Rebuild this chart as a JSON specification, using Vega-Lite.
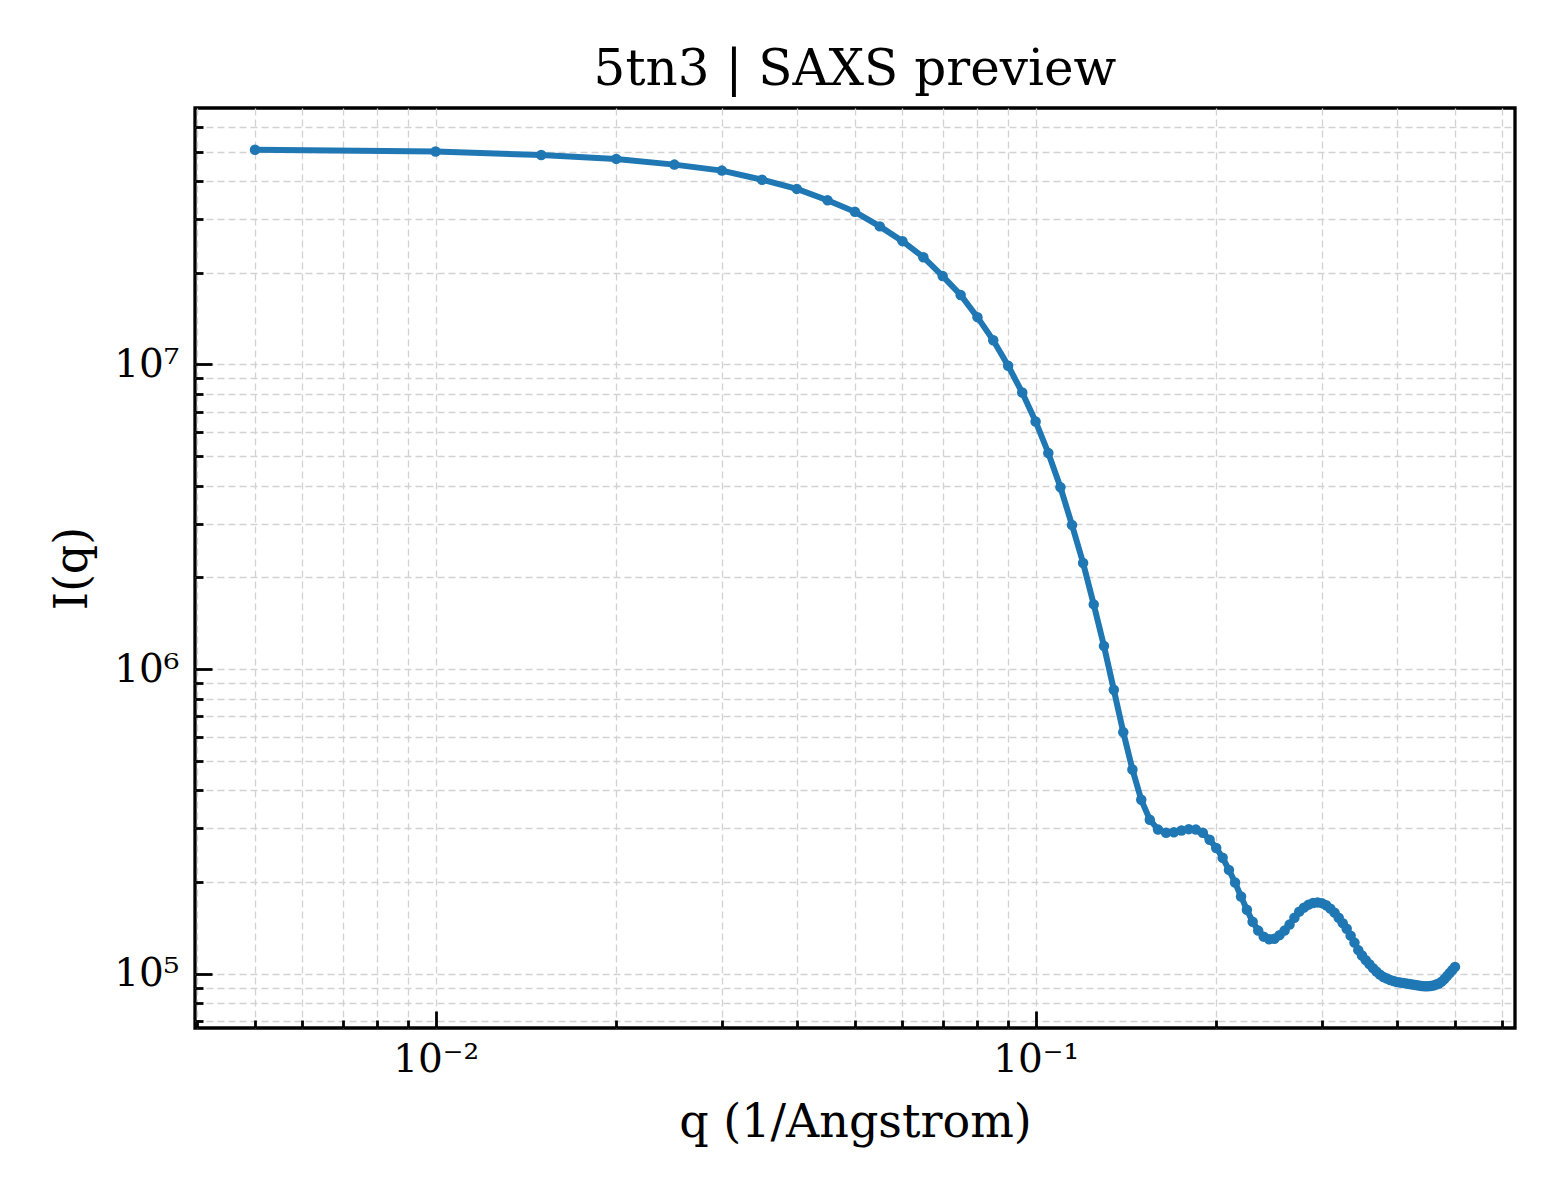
{
  "$schema": "https://vega.github.io/schema/vega-lite/v6.json",
  "autosize": "none",
  "padding": {"left": 195, "top": 108, "right": 45, "bottom": 172},
  "width": 1320,
  "height": 920,
  "background": "white",
  "config": {
    "view": {"stroke": "black", "strokeWidth": 3.3},
    "font": "DejaVu Serif",
    "axis": {
      "domain": false,
      "grid": true,
      "gridColor": "#d2d2d2",
      "gridDash": [7, 4],
      "gridWidth": 1.3,
      "tickColor": "black",
      "tickWidth": 2.8,
      "labelFont": "DejaVu Serif",
      "labelColor": "black",
      "labelFontSize": 39,
      "titleFont": "DejaVu Serif",
      "titleFontWeight": "normal",
      "titleColor": "black",
      "titleFontSize": 46,
      "labelOverlap": false,
      "labelFlush": false
    }
  },
  "title": {"text": "5tn3 | SAXS preview", "font": "DejaVu Serif", "fontSize": 50, "fontWeight": "normal", "color": "black", "offset": 13, "anchor": "middle"},
  "data": {"values": [
    {"q": 0.005, "I": 50700000}, {"q": 0.010, "I": 50000000}, {"q": 0.015, "I": 48700000}, {"q": 0.020, "I": 47300000},
    {"q": 0.025, "I": 45300000}, {"q": 0.030, "I": 43300000}, {"q": 0.035, "I": 40400000}, {"q": 0.040, "I": 37700000},
    {"q": 0.045, "I": 34600000}, {"q": 0.050, "I": 31700000}, {"q": 0.055, "I": 28400000}, {"q": 0.060, "I": 25400000},
    {"q": 0.065, "I": 22500000}, {"q": 0.070, "I": 19500000}, {"q": 0.075, "I": 16900000}, {"q": 0.080, "I": 14300000},
    {"q": 0.085, "I": 12000000}, {"q": 0.090, "I": 9900000}, {"q": 0.095, "I": 8090000}, {"q": 0.100, "I": 6500000},
    {"q": 0.105, "I": 5120000}, {"q": 0.110, "I": 3950000}, {"q": 0.115, "I": 2970000}, {"q": 0.120, "I": 2230000},
    {"q": 0.125, "I": 1630000}, {"q": 0.130, "I": 1190000}, {"q": 0.135, "I": 855000}, {"q": 0.140, "I": 620000},
    {"q": 0.145, "I": 468000}, {"q": 0.150, "I": 372000}, {"q": 0.155, "I": 320000}, {"q": 0.160, "I": 297000},
    {"q": 0.165, "I": 290000}, {"q": 0.170, "I": 291000}, {"q": 0.175, "I": 295000}, {"q": 0.180, "I": 298000},
    {"q": 0.185, "I": 297000}, {"q": 0.190, "I": 290000}, {"q": 0.195, "I": 275000}, {"q": 0.200, "I": 258500},
    {"q": 0.205, "I": 240000}, {"q": 0.210, "I": 219000}, {"q": 0.215, "I": 199000}, {"q": 0.220, "I": 179000},
    {"q": 0.225, "I": 162000}, {"q": 0.230, "I": 148000}, {"q": 0.235, "I": 138400}, {"q": 0.240, "I": 132200},
    {"q": 0.245, "I": 129700}, {"q": 0.250, "I": 130200}, {"q": 0.255, "I": 133700}, {"q": 0.260, "I": 138400},
    {"q": 0.265, "I": 144800}, {"q": 0.270, "I": 152600}, {"q": 0.275, "I": 159700}, {"q": 0.280, "I": 164600},
    {"q": 0.285, "I": 168400}, {"q": 0.290, "I": 170500}, {"q": 0.295, "I": 171300}, {"q": 0.300, "I": 170300},
    {"q": 0.305, "I": 167700}, {"q": 0.310, "I": 163400}, {"q": 0.315, "I": 158500}, {"q": 0.320, "I": 152600},
    {"q": 0.325, "I": 146400}, {"q": 0.330, "I": 140400}, {"q": 0.335, "I": 133200}, {"q": 0.340, "I": 126400},
    {"q": 0.345, "I": 119400}, {"q": 0.350, "I": 114600}, {"q": 0.355, "I": 110700}, {"q": 0.360, "I": 107400},
    {"q": 0.365, "I": 104200}, {"q": 0.370, "I": 101500}, {"q": 0.375, "I": 99200}, {"q": 0.380, "I": 97400},
    {"q": 0.385, "I": 96300}, {"q": 0.390, "I": 95200}, {"q": 0.395, "I": 94500}, {"q": 0.400, "I": 93800},
    {"q": 0.405, "I": 93400}, {"q": 0.410, "I": 93100}, {"q": 0.415, "I": 92700}, {"q": 0.420, "I": 92400},
    {"q": 0.425, "I": 92000}, {"q": 0.430, "I": 91700}, {"q": 0.435, "I": 91300}, {"q": 0.440, "I": 91000},
    {"q": 0.445, "I": 90900}, {"q": 0.450, "I": 90900}, {"q": 0.455, "I": 91000}, {"q": 0.460, "I": 91300},
    {"q": 0.465, "I": 92000}, {"q": 0.470, "I": 92700}, {"q": 0.475, "I": 94100}, {"q": 0.480, "I": 95900},
    {"q": 0.485, "I": 98100}, {"q": 0.490, "I": 100400}, {"q": 0.495, "I": 102700}, {"q": 0.500, "I": 105200}
  ]},
  "mark": {"type": "line", "color": "#1f77b4", "strokeWidth": 6, "point": {"filled": true, "size": 110, "color": "#1f77b4"}},
  "encoding": {
    "x": {
      "field": "q", "type": "quantitative",
      "scale": {"type": "log", "domain": [0.003972, 0.6295], "nice": false},
      "axis": {
        "title": "q (1/Angstrom)",
        "titlePadding": 12,
        "values": [0.004, 0.005, 0.006, 0.007, 0.008, 0.009, 0.01, 0.02, 0.03, 0.04, 0.05, 0.06, 0.07, 0.08, 0.09, 0.1, 0.2, 0.3, 0.4, 0.5, 0.6],
        "labelExpr": "datum.value == 0.01 ? '10⁻²' : datum.value == 0.1 ? '10⁻¹' : ''",
        "tickSize": {"condition": {"test": "datum.value == 0.01 || datum.value == 0.1", "value": -17}, "value": -8},
        "labelPadding": 29
      }
    },
    "y": {
      "field": "I", "type": "quantitative",
      "scale": {"type": "log", "domain": [66270, 69500000], "nice": false},
      "axis": {
        "title": "I(q)",
        "titlePadding": 17,
        "values": [70000, 80000, 90000, 100000, 200000, 300000, 400000, 500000, 600000, 700000, 800000, 900000, 1000000, 2000000, 3000000, 4000000, 5000000, 6000000, 7000000, 8000000, 9000000, 10000000, 20000000, 30000000, 40000000, 50000000, 60000000],
        "labelExpr": "datum.value == 100000 ? '10⁵' : datum.value == 1000000 ? '10⁶' : datum.value == 10000000 ? '10⁷' : ''",
        "tickSize": {"condition": {"test": "datum.value == 100000 || datum.value == 1000000 || datum.value == 10000000", "value": -17}, "value": -8},
        "labelPadding": 33
      }
    }
  }
}
